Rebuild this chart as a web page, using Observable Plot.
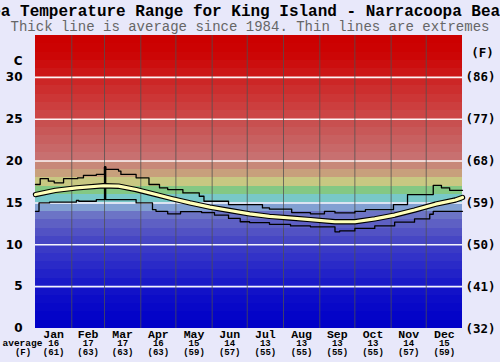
<!DOCTYPE html>
<html><head><meta charset="utf-8">
<script src="https://cdn.jsdelivr.net/npm/d3@7"></script>
<script src="https://cdn.jsdelivr.net/npm/@observablehq/plot@0.6"></script>
<style>html,body{margin:0;padding:0;background:#e8e8fa;overflow:hidden;}</style>
</head><body><div id="chart"></div>
<script>
const title = "Sea Temperature Range for King Island - Narracoopa Beach";
const subtitle = "Thick line is average since 1984. Thin lines are extremes";

const months = ["Jan","Feb","Mar","Apr","May","Jun","Jul","Aug","Sep","Oct","Nov","Dec"];
const monthAvgC = [16,17,17,16,15,14,13,13,13,13,14,15];
const monthAvgF = [61,63,63,63,59,57,55,55,55,55,57,59];
const monthStartDay = [0,31,59,90,120,151,181,212,243,273,304,334,365];

const yTicksC = [0,5,10,15,20,25,30];
const yTicksF = [32,41,50,59,68,77,86];

// daily extremes (step lines) and average
const maxDay  = [0,4,11,16,24,36,41,52,59,60,71,73,86,97,106,113,126,140,144,165,194,200,219,235,247,256,273,282,306,318,340,347,354,365];
const maxTemp = [17.2,17.9,17.6,17.4,17.9,18.0,18.3,18.4,19.3,19.0,18.8,18.4,18.0,17.2,16.8,16.6,16.2,15.8,15.2,14.8,14.4,14.25,13.85,13.7,14.0,13.8,14.0,14.2,14.8,16.0,17.1,16.8,16.5,16.5];

const avgDay  = [0,17,35,58,71,86,103,117,132,149,166,183,200,218,235,256,273,290,307,324,342,359,365];
const avgTemp = [16.0,16.5,16.8,17.05,17.0,16.6,16.0,15.5,15.0,14.5,14.1,13.7,13.4,13.2,13.0,12.75,12.75,13.1,13.55,14.15,14.85,15.35,15.65];

const minDay  = [0,3,12,35,37,52,59,60,86,100,103,113,124,142,153,165,175,183,200,218,235,256,260,273,290,307,324,337,340,365];
const minTemp = [14.0,15.0,15.1,15.3,15.2,15.4,19.3,15.4,15.0,14.2,14.0,13.7,13.95,13.85,13.55,13.15,12.75,12.65,12.45,12.25,12.15,11.55,11.65,11.95,12.25,12.7,13.1,13.65,14.0,14.0];

// background band palette (one per degree)
const bandColors = [
  "#0000c8","#0404c8","#0808c8","#0c0cc8","#1212c8","#1a1ac8","#2222c8","#2a2ac8","#3232c8","#3a3ac6",
  "#4646c4","#5252c4","#5e60c4","#6c74c6","#82a0d2","#78c8c8","#84c884","#c8c882","#c8a07c","#c88878",
  "#c87070","#c86868","#c86060","#c85858","#c85050","#cc4646","#cc3e3e","#cc3636","#cc2e2e","#cc2626",
  "#cc1616","#cc0e0e","#cc0606","#cc0202","#cc0000"
];

const bands = bandColors.map((c, d) => ({lo: d, hi: d + 1, color: c}));
const maxData = maxDay.map((d, i) => ({day: d, t: maxTemp[i]}));
const avgData = avgDay.map((d, i) => ({day: d, t: avgTemp[i]}));
const minData = minDay.map((d, i) => ({day: d, t: minTemp[i]}));
const monthRows = months.map((m, i) => ({
  m, mid: (monthStartDay[i] + monthStartDay[i + 1]) / 2, c: monthAvgC[i], f: monthAvgF[i]
}));

const mono = "Liberation Mono";
const plot = Plot.plot({
  width: 500, height: 362,
  marginLeft: 35, marginRight: 38, marginTop: 35, marginBottom: 34,
  style: {background: "#e8e8fa", overflow: "visible"},
  x: {domain: [0, 365], axis: null},
  y: {domain: [0, 35], axis: null},
  color: {type: "identity"},
  marks: [
    Plot.rect(bands, {y1: "lo", y2: "hi", fill: "color", inset: 0, shapeRendering: "crispEdges"}),
    Plot.ruleY(yTicksC.slice(1), {stroke: "white", strokeWidth: 1.6, strokeOpacity: 0.95}),
    Plot.ruleX(monthStartDay.slice(1, -1), {stroke: "#505050", strokeOpacity: 0.75, strokeWidth: 1}),
    Plot.line(maxData, {x: "day", y: "t", curve: "step-after", stroke: "black", strokeWidth: 1.3}),
    Plot.line(minData, {x: "day", y: "t", curve: "step-after", stroke: "black", strokeWidth: 1.3}),
    Plot.line(avgData, {x: "day", y: "t", stroke: "black", strokeWidth: 5.4, strokeLinejoin: "round"}),
    Plot.line(avgData, {x: "day", y: "t", stroke: "#ffffb8", strokeWidth: 3.2, strokeLinejoin: "round"}),
    // left axis
    Plot.text(yTicksC, {y: d => d, text: d => String(d), frameAnchor: "left", dx: -13, textAnchor: "end",
      fontFamily: "DejaVu Sans", fontWeight: "bold", fontSize: 12, fill: "black"}),
    Plot.text(["C"], {frameAnchor: "top-left", dx: -13, dy: 21, textAnchor: "end",
      fontFamily: "DejaVu Sans", fontWeight: "bold", fontSize: 12, fill: "black"}),
    // right axis
    Plot.text(yTicksC, {y: d => d, text: (d, i) => `(${yTicksF[i]})`, frameAnchor: "right", dx: 18, textAnchor: "middle",
      fontFamily: "DejaVu Sans Mono", fontWeight: "bold", fontSize: 12.5, fill: "black"}),
    Plot.text(["(F)"], {frameAnchor: "top-right", dx: 20, dy: 13, textAnchor: "middle",
      fontFamily: "DejaVu Sans Mono", fontWeight: "bold", fontSize: 12.5, fill: "black"}),
    // title & subtitle
    Plot.text([title], {frameAnchor: "top", dx: 1.5, dy: -20, lineAnchor: "bottom",
      fontFamily: mono, fontWeight: "bold", fontSize: 16, fill: "black"}),
    Plot.text([subtitle], {frameAnchor: "top", dx: 1, dy: -4.5, lineAnchor: "bottom",
      fontFamily: mono, fontSize: 14, fill: "#666"}),
    // bottom month labels
    Plot.text(monthRows, {x: "mid", text: "m", frameAnchor: "bottom", dy: 9, lineAnchor: "bottom",
      fontFamily: mono, fontWeight: "bold", fontSize: 11.5, fill: "black"}),
    Plot.text(monthRows, {x: "mid", text: d => String(d.c), frameAnchor: "bottom", dy: 17.5, lineAnchor: "bottom",
      fontFamily: mono, fontWeight: "bold", fontSize: 9, fill: "black"}),
    Plot.text(monthRows, {x: "mid", text: d => `(${d.f})`, frameAnchor: "bottom", dy: 26.5, lineAnchor: "bottom",
      fontFamily: mono, fontWeight: "bold", fontSize: 9, fill: "black"}),
    Plot.text(["average"], {frameAnchor: "bottom-left", dx: -33, dy: 17.5, textAnchor: "start", lineAnchor: "bottom",
      fontFamily: mono, fontWeight: "bold", fontSize: 9.5, fill: "black"}),
    Plot.text(["(F)"], {frameAnchor: "bottom-left", dx: -12.5, dy: 26.5, textAnchor: "middle", lineAnchor: "bottom",
      fontFamily: mono, fontWeight: "bold", fontSize: 9, fill: "black"})
  ]
});
document.getElementById("chart").appendChild(plot);
</script>
</body></html>
